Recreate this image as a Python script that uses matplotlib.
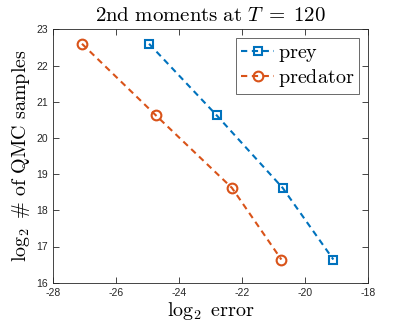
import matplotlib
matplotlib.use("Agg")
import matplotlib.pyplot as plt

plt.rcParams['mathtext.fontset'] = 'cm'
plt.rcParams['font.family'] = ['Liberation Sans', 'DejaVu Sans']

prey_err = [-24.96, -22.81, -20.72, -19.11]
prey_n = [22.6, 20.62, 18.62, 16.64]
pred_err = [-27.09, -24.74, -22.33, -20.76]
pred_n = [22.6, 20.62, 18.62, 16.64]
xticks = [-28, -26, -24, -22, -20, -18]
yticks = [16, 17, 18, 19, 20, 21, 22, 23]

blue = '#0072BD'
orange = '#D95319'
gray = '#262626'

fig = plt.figure(figsize=(4.07, 3.26), dpi=100)
ax = fig.add_axes([53.3/407, 1 - 282.7/326, 315/407, 253.4/326])

ax.plot(prey_err, prey_n, ls='--', color=blue, lw=1.5, marker='s', ms=6,
        mfc='none', mec=blue, mew=1.5, dashes=(3.0, 2.2), label='prey')
ax.plot(pred_err, pred_n, ls='--', color=orange, lw=1.5, marker='o', ms=7,
        mfc='none', mec=orange, mew=1.5, dashes=(3.0, 2.2), label='predator')

ax.set_xlim(-28, -18)
ax.set_ylim(16, 23)
ax.set_xticks(xticks)
ax.set_yticks(yticks)
ax.set_xticklabels([str(t) for t in xticks])
ax.set_yticklabels([str(t) for t in yticks])
ax.tick_params(direction='in', length=4, width=0.6, colors=gray, labelsize=7.5,
               top=True, right=True, labelcolor=gray, pad=4)
for s in ax.spines.values():
    s.set_color(gray)
    s.set_linewidth(0.6)

ax.set_title(r'$\mathrm{2nd\ moments\ at\ }T\;=\;120$', fontsize=15, pad=6)
ax.set_xlabel(r'$\log_2\ \mathrm{error}$', fontsize=14.5, labelpad=1)
ax.set_ylabel(r'$\log_2\ \#\ \mathrm{of\ QMC\ samples}$', fontsize=14.5, labelpad=3)

leg = ax.legend(loc='upper right', frameon=True, fancybox=False,
                edgecolor=gray, borderpad=0.25, handlelength=1.6, handletextpad=0.2,
                labelspacing=0.15, borderaxespad=0.45, prop={'size': 14.5})
leg.get_frame().set_linewidth(0.6)
for t in leg.get_texts():
    t.set_text(r'$\mathrm{' + t.get_text() + '}$')

fig.savefig('out.png', dpi=100)
